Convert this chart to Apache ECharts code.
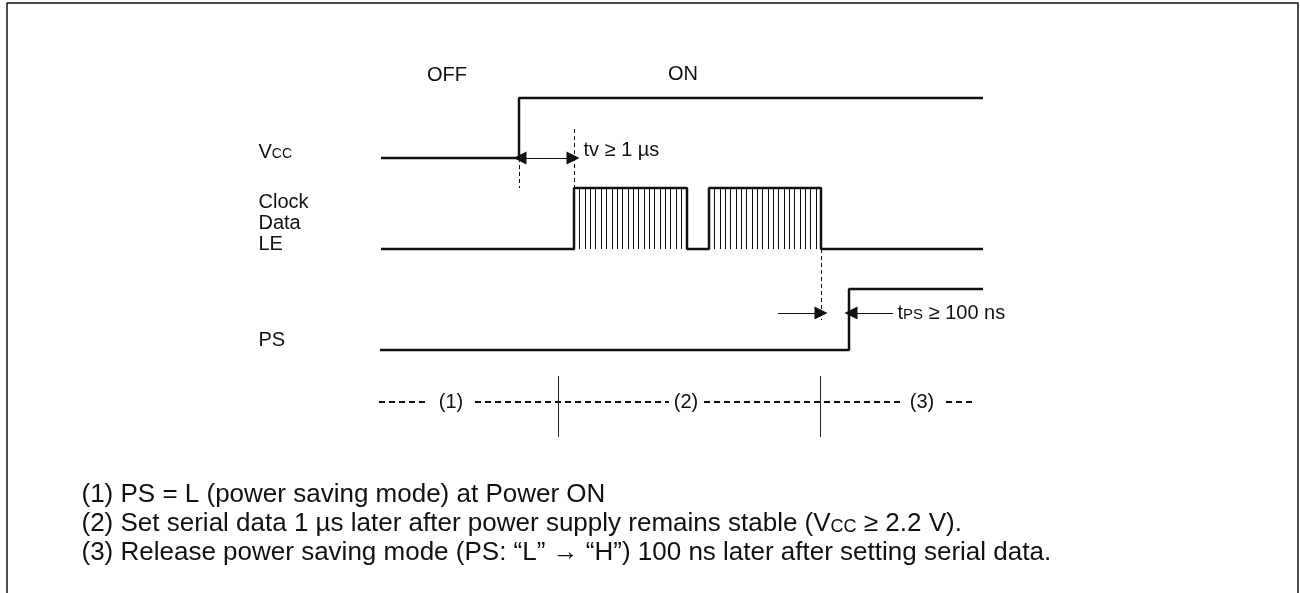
<!DOCTYPE html>
<html>
<head>
<meta charset="utf-8">
<title>Power on timing</title>
<script src="https://cdn.jsdelivr.net/npm/echarts@6/dist/echarts.min.js"></script>
<style>
  html, body { margin: 0; padding: 0; background: #fff; }
  #chart { width: 1300px; height: 593px; }
</style>
</head>
<body>
<div id="chart"></div>
<script>
// time positions of the signal edges (axis units)
var tBegin = 381;
var tFinish = 983;
var vccEdges = [519];
var busEdges = [574, 687, 709, 821];
var psEdges = [849];

// clock hatch inside the two data bursts
var burst1Ticks = [579, 585, 590, 595, 601, 606, 612, 617, 622, 628, 633, 638, 644, 649, 654, 660, 665, 670, 676, 681];
var burst2Ticks = [714, 720, 725, 730, 736, 741, 746, 752, 757, 762, 768, 773, 778, 784, 789, 794, 800, 805, 810, 816];

// phase marks
var phaseDividers = [558, 820];
var phaseNames = ['(1)', '(2)', '(3)'];
var phaseCenters = [451, 686, 922];
var phaseDashes = [[379, 427], [475, 669], [704, 903], [946, 972]];

var signalNames = ['{v|V}{c|CC}', 'Clock', 'Data', 'LE', 'PS'];
var notes = [
    '(1) PS = L (power saving mode) at Power ON',
    '{n|(2) Set serial data 1 \u00b5s later after power supply remains stable (V}{s|CC}{n| \u2265 2.2 V).}',
    '(3) Release power saving mode (PS: \u201cL\u201d \u2192 \u201cH\u201d) 100 ns later after setting serial data.'
];

// rows: [low, high]
var rowVcc = [158, 98];
var rowBus = [249, 188];
var rowPs = [350, 289];

var FONT = '"Liberation Sans", Arial, Helvetica, sans-serif';
var INK = '#111';

function wave(row, edges) {
    var pts = [[tBegin, row[0]]];
    var lvl = 0;
    for (var i = 0; i < edges.length; i++) {
        pts.push([edges[i], row[lvl]]);
        lvl = 1 - lvl;
        pts.push([edges[i], row[lvl]]);
    }
    pts.push([tFinish, row[lvl]]);
    return pts;
}

function hatch(ticks, row) {
    return ticks.map(function (x) { return { coords: [[x, row[1]], [x, row[0]]] }; });
}

function lineSeries(data, width, dash) {
    return {
        type: 'line', data: data, symbol: 'none', silent: true, animation: false,
        lineStyle: { color: INK, width: width, type: dash || 'solid' }
    };
}

function textItem(x, y, txt, where, size) {
    return {
        value: [x, y],
        label: { formatter: txt, position: where, fontSize: size || 20 }
    };
}

var psWave = wave(rowPs, psEdges);
psWave[0][0] = 380;

var richStyle = {
    v: { fontSize: 20, fontFamily: FONT, color: INK, verticalAlign: 'bottom' },
    c: { fontSize: 14, fontFamily: FONT, color: INK, verticalAlign: 'bottom', padding: [0, 0, 1, 0] },
    n: { fontSize: 26, fontFamily: FONT, color: INK, verticalAlign: 'bottom' },
    s: { fontSize: 18, fontFamily: FONT, color: INK, verticalAlign: 'bottom', padding: [0, 0, 1, 0] },
    t: { fontSize: 20, fontFamily: FONT, color: INK, verticalAlign: 'bottom' },
    p: { fontSize: 15, fontFamily: FONT, color: INK, verticalAlign: 'bottom', padding: [0, 0, 1, 0] }
};

var texts = [
    textItem(447, 75, 'OFF', 'inside'),
    textItem(683, 74, 'ON', 'inside'),
    textItem(258, 152, signalNames[0], 'right'),
    textItem(258, 202, signalNames[1], 'right'),
    textItem(258, 223, signalNames[2], 'right'),
    textItem(258, 244, signalNames[3], 'right'),
    textItem(258, 340, signalNames[4], 'right'),
    textItem(583, 150, 'tv \u2265 1 \u00b5s', 'right'),
    textItem(897, 313, '{t|t}{p|PS}{t| \u2265 100 ns}', 'right'),
    textItem(81, 495, notes[0], 'right', 26),
    textItem(81, 524, notes[1], 'right', 26),
    textItem(81, 553, notes[2], 'right', 26)
];
for (var k = 0; k < phaseNames.length; k++) {
    texts.push(textItem(phaseCenters[k], 402, phaseNames[k], 'inside'));
}

var series = [
    lineSeries(wave(rowVcc, vccEdges), 2.5),
    lineSeries(wave(rowBus, busEdges), 2.5),
    lineSeries(psWave, 2.5),
    {
        type: 'lines', coordinateSystem: 'cartesian2d', silent: true, animation: false,
        lineStyle: { color: INK, width: 1, opacity: 1 },
        data: hatch(burst1Ticks, rowBus).concat(hatch(burst2Ticks, rowBus))
    },
    {   // dashed guides
        type: 'lines', coordinateSystem: 'cartesian2d', silent: true, animation: false,
        lineStyle: { color: INK, width: 1, type: [4, 3], opacity: 1 },
        data: [
            { coords: [[vccEdges[0], rowVcc[0]], [vccEdges[0], 188]] },
            { coords: [[busEdges[0], 129], [busEdges[0], rowBus[1]]] },
            { coords: [[busEdges[3], rowBus[0]], [busEdges[3], 320]] }
        ]
    },
    {   // timing arrows
        type: 'lines', coordinateSystem: 'cartesian2d', silent: true, animation: false,
        symbol: ['none', 'triangle'], symbolSize: [8, 13], symbolOffset: [0, 6],
        lineStyle: { color: INK, width: 1, opacity: 1 },
        itemStyle: { color: INK },
        data: [
            { coords: [[546, 158], [vccEdges[0] + 1, 158]] },
            { coords: [[546, 158], [busEdges[0] - 1, 158]] },
            { coords: [[778, 313], [busEdges[3], 313]] },
            { coords: [[893, 313], [psEdges[0] + 2, 313]] }
        ]
    },
    {   // phase dashes
        type: 'lines', coordinateSystem: 'cartesian2d', silent: true, animation: false,
        lineStyle: { color: INK, width: 2, type: [6, 4], opacity: 1 },
        data: phaseDashes.map(function (d) { return { coords: [[d[0], 402], [d[1], 402]] }; })
    },
    {   // phase dividers
        type: 'lines', coordinateSystem: 'cartesian2d', silent: true, animation: false,
        lineStyle: { color: '#222', width: 1, opacity: 1 },
        data: phaseDividers.map(function (x) { return { coords: [[x, 376], [x, 437]] }; })
    },
    {   // frame
        type: 'line', symbol: 'none', silent: true, animation: false,
        lineStyle: { color: INK, width: 1.5 },
        data: [[7, 593], [7, 3], [1298, 3], [1298, 593]]
    },
    {
        type: 'scatter', silent: true, animation: false,
        symbolSize: 1, itemStyle: { color: 'rgba(0,0,0,0)' },
        label: {
            show: true, distance: 0, color: INK, fontFamily: FONT, opacity: 1,
            rich: richStyle
        },
        data: texts
    }
];

var chart = echarts.init(document.getElementById('chart'), null, { renderer: 'canvas' });
chart.setOption({
    animation: false,
    backgroundColor: '#fff',
    grid: { left: 0, right: 0, top: 0, bottom: 0 },
    xAxis: { type: 'value', min: 0, max: 1300, show: false },
    yAxis: { type: 'value', min: 0, max: 593, inverse: true, show: false },
    series: series
});
</script>
</body>
</html>
